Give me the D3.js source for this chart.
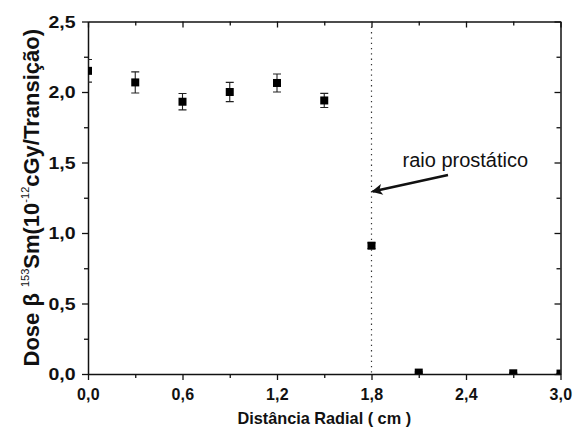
<!DOCTYPE html>
<html>
<head>
<meta charset="utf-8">
<script src="https://cdn.jsdelivr.net/npm/d3@7"></script>
<style>
  html, body { margin: 0; padding: 0; background: #fff; }
  svg { display: block; }
  text { font-family: "Liberation Sans", Arial, sans-serif; fill: #111; }
</style>
</head>
<body>
<svg id="chart" width="574" height="435"></svg>
<script>
// ---- data ----
const radialDistance = [0.0, 0.3, 0.6, 0.9, 1.2, 1.5, 1.8, 2.1, 2.7, 3.0];
const doseValues     = [2.15, 2.068, 1.931, 2.0, 2.064, 1.94, 0.91, 0.01, 0.005, 0.003];
const doseErrors     = [0.08, 0.075, 0.058, 0.068, 0.064, 0.05, 0.02, 0.005, 0.003, 0.002];
const xTickValues    = [0.0, 0.6, 1.2, 1.8, 2.4, 3.0];
const xTickLabels    = ["0,0", "0,6", "1,2", "1,8", "2,4", "3,0"];
const yTickValues    = [0.0, 0.5, 1.0, 1.5, 2.0, 2.5];
const yTickLabels    = ["0,0", "0,5", "1,0", "1,5", "2,0", "2,5"];
const xMinorTicks    = [0.3, 0.9, 1.5, 2.1, 2.7];
const yMinorTicks    = [0.25, 0.75, 1.25, 1.75, 2.25];
const prostateRadius = 1.8;
const annotationText = "raio prostático";
const xTitle = "Distância Radial ( cm )";

// ---- layout ----
const svg = d3.select("#chart");
const L = 88, R = 560.5, T = 21.5, B = 374;
const x = d3.scaleLinear().domain([0, 3]).range([L, R]);
const y = d3.scaleLinear().domain([0, 2.5]).range([B, T]);

const defs = svg.append("defs");
defs.append("clipPath").attr("id", "plotClip")
  .append("rect").attr("x", L).attr("y", T).attr("width", R - L).attr("height", B - T);
defs.append("marker").attr("id", "arrowHead")
  .attr("viewBox", "0 0 10 10").attr("refX", 9).attr("refY", 5)
  .attr("markerWidth", 6).attr("markerHeight", 4.2).attr("markerUnits", "strokeWidth")
  .attr("orient", "auto")
  .append("path").attr("d", "M0,0 L10,5 L0,10 L2.5,5 Z").attr("fill", "#111");

// ---- axes ----
const axisColor = "#111";
function styleAxis(g) {
  g.select(".domain").attr("stroke", axisColor).attr("stroke-width", 1.5);
  g.selectAll(".tick line").attr("stroke", axisColor).attr("stroke-width", 1.3);
}
function minorStyle(g) {
  g.select(".domain").remove();
  g.selectAll(".tick line").attr("stroke", axisColor).attr("stroke-width", 1.3);
}
// bottom major
const gx = svg.append("g").attr("transform", `translate(0,${B})`)
  .call(d3.axisBottom(x).tickValues(xTickValues).tickSize(6).tickSizeOuter(0)
    .tickFormat((d, i) => xTickLabels[i]));
styleAxis(gx);
gx.selectAll(".tick text").attr("font-size", 16).attr("font-weight", "bold")
  .attr("y", 14.5).attr("dy", "0.71em").attr("fill", "#111")
  .style("letter-spacing", "0.3px");
svg.append("g").attr("transform", `translate(0,${B})`)
  .call(d3.axisBottom(x).tickValues(xMinorTicks).tickSize(4).tickFormat(""))
  .call(minorStyle);
// top
const gt = svg.append("g").attr("transform", `translate(0,${T})`)
  .call(d3.axisBottom(x).tickValues(xTickValues).tickSize(6).tickSizeOuter(0).tickFormat(""));
styleAxis(gt);
svg.append("g").attr("transform", `translate(0,${T})`)
  .call(d3.axisBottom(x).tickValues(xMinorTicks).tickSize(4).tickFormat(""))
  .call(minorStyle);
// left
const gy = svg.append("g").attr("transform", `translate(${L},0)`)
  .call(d3.axisLeft(y).tickValues(yTickValues).tickSize(6).tickSizeOuter(0)
    .tickFormat((d, i) => yTickLabels[i]));
styleAxis(gy);
gy.selectAll(".tick text").attr("font-size", 16).attr("font-weight", "bold")
  .attr("x", 0).attr("dy", "0.36em").attr("fill", "#111")
  .attr("text-anchor", "end")
  .attr("transform", "translate(-12.5,0) scale(1.22,1)");
svg.append("g").attr("transform", `translate(${L},0)`)
  .call(d3.axisLeft(y).tickValues(yMinorTicks).tickSize(4).tickFormat(""))
  .call(minorStyle);
// right
const gr = svg.append("g").attr("transform", `translate(${R},0)`)
  .call(d3.axisRight(y).tickValues(yTickValues).tickSize(-6).tickSizeOuter(0).tickFormat(""));
styleAxis(gr);
svg.append("g").attr("transform", `translate(${R},0)`)
  .call(d3.axisRight(y).tickValues(yMinorTicks).tickSize(-4).tickFormat(""))
  .call(minorStyle);

// ---- dotted reference line ----
svg.append("line")
  .attr("x1", x(prostateRadius)).attr("x2", x(prostateRadius))
  .attr("y1", y(2.5)).attr("y2", y(0))
  .attr("stroke", "#333").attr("stroke-width", 1.2).attr("stroke-dasharray", "1.3,4");

// ---- data marks ----
const pts = radialDistance.map((d, i) => ({ x: d, y: doseValues[i], e: doseErrors[i] }));
const plot = svg.append("g").attr("clip-path", "url(#plotClip)");
const eb = plot.selectAll("g.err").data(pts).join("g").attr("class", "err")
  .attr("stroke", "#222").attr("stroke-width", 1.1);
eb.append("line").attr("x1", d => x(d.x)).attr("x2", d => x(d.x))
  .attr("y1", d => y(d.y + d.e)).attr("y2", d => y(d.y - d.e));
eb.append("line").attr("x1", d => x(d.x) - 4).attr("x2", d => x(d.x) + 4)
  .attr("y1", d => y(d.y + d.e)).attr("y2", d => y(d.y + d.e));
eb.append("line").attr("x1", d => x(d.x) - 4).attr("x2", d => x(d.x) + 4)
  .attr("y1", d => y(d.y - d.e)).attr("y2", d => y(d.y - d.e));
plot.selectAll("rect.pt").data(pts).join("rect").attr("class", "pt")
  .attr("x", d => x(d.x) - 4).attr("y", d => y(d.y) - 4)
  .attr("width", 8).attr("height", 8).attr("fill", "#000");

// ---- annotation ----
svg.append("text").attr("x", 402.5).attr("y", 167)
  .attr("font-size", 20).attr("fill", "#111").text(annotationText);
svg.append("line")
  .attr("x1", 448).attr("y1", 175)
  .attr("x2", x(prostateRadius) + 1).attr("y2", 191.5)
  .attr("stroke", "#111").attr("stroke-width", 2.6)
  .attr("marker-end", "url(#arrowHead)");

// ---- axis titles ----
svg.append("text").attr("x", (L + R) / 2).attr("y", 423.5)
  .attr("text-anchor", "middle").attr("font-size", 16.3).attr("font-weight", "bold")
  .text(xTitle);

const yt = svg.append("text")
  .attr("transform", `translate(39,${(T + B) / 2}) rotate(-90)`)
  .attr("text-anchor", "middle").attr("font-size", 22).attr("font-weight", "bold");
yt.append("tspan").text("Dose β ");
yt.append("tspan").attr("font-size", 11).attr("font-weight", "normal").attr("dy", -10).text("153");
yt.append("tspan").attr("dy", 10).text("Sm(10");
yt.append("tspan").attr("font-size", 11).attr("font-weight", "normal").attr("dy", -10).text("-12");
yt.append("tspan").attr("dy", 10).text("cGy/Transição)");
</script>
</body>
</html>
